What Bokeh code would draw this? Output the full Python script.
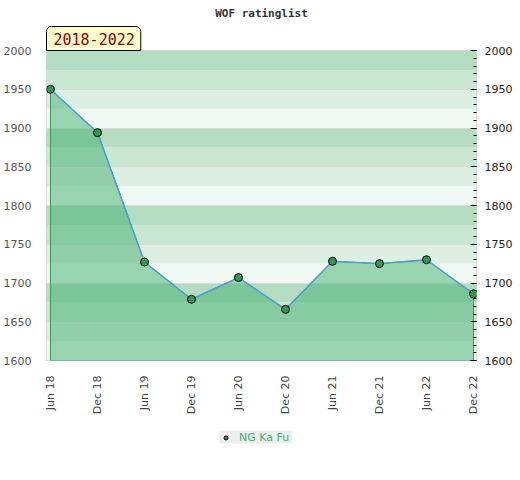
import numpy as np
from bokeh.plotting import figure
from bokeh.layouts import column
from bokeh.models import (Range1d, LinearAxis, SingleIntervalTicker, FixedTicker,
                          Title, Legend, LegendItem)
from bokeh.embed import file_html
from bokeh.resources import INLINE
from math import pi

# ---- data ----
periods = ["Jun 18", "Dec 18", "Jun 19", "Dec 19", "Jun 20",
           "Dec 20", "Jun 21", "Dec 21", "Jun 22", "Dec 22"]
ratings = [1950, 1894, 1727, 1679, 1707, 1666, 1728, 1725, 1730, 1686]
player = "NG Ka Fu"
title_text = "WOF ratinglist"
span_text = "2018-2022"

x = list(range(len(periods)))
ymin, ymax = 1600, 2000

p = figure(frame_width=430, frame_height=310, output_backend="svg",
           toolbar_location=None, x_range=Range1d(-0.085, 9.064),
           y_range=Range1d(ymin, ymax), min_border_left=37, min_border_right=37,
           min_border_top=0, min_border_bottom=0,
           background_fill_color="white", border_fill_color="white")

p.outline_line_color = "#d4d4d4"
p.xgrid.visible = False
p.ygrid.visible = False

# background bands, 25 units each, repeating 4-colour pattern per 100
band_colors = ["#eff8f2", "#dcefe2", "#c9e6d3", "#b3dcc1"]
band_bottoms = np.arange(ymin, ymax, 25)
bc = [band_colors[int((b % 100) // 25)] for b in band_bottoms]
p.hbar(y=band_bottoms + 12.5, height=25, left=-1, right=10, fill_color=bc,
       line_color=None)
p.hspan(y=list(range(ymin, ymax + 1, 50)), line_color="#dadada", line_width=1)

# area under the line
xs = [x[0]] + x + [x[-1]]
ys = [ymin] + ratings + [ymin]
p.patch(xs, ys, fill_color="#43b070", fill_alpha=0.5, line_color="#3a9a5a",
        line_width=1)
p.line(x, ratings, line_color="#4a9fd8", line_width=1.5)
marker_style = dict(size=8, fill_color="#2f9a55", line_color="black", line_width=1)
p.scatter(x, ratings, **marker_style)

# axes
p.yaxis.ticker = SingleIntervalTicker(interval=50, num_minor_ticks=0)
p.yaxis.major_tick_line_color = None
p.yaxis.minor_tick_line_color = None
p.yaxis.axis_line_color = None
p.yaxis.major_label_text_font = "DejaVu Sans"
p.yaxis.major_label_text_font_size = "11px"
p.yaxis.major_label_text_color = "#555555"
p.yaxis.major_label_standoff = 9

ra = LinearAxis(ticker=SingleIntervalTicker(interval=50, num_minor_ticks=5))
ra.axis_line_color = None
ra.major_tick_in = 6
ra.major_tick_out = 0
ra.minor_tick_in = 3
ra.minor_tick_out = 0
ra.major_tick_line_color = "black"
ra.minor_tick_line_color = "black"
ra.major_label_text_font = "DejaVu Sans"
ra.major_label_text_font_size = "11px"
ra.major_label_text_color = "#222222"
ra.major_label_standoff = 8
p.add_layout(ra, "right")

p.xaxis.ticker = FixedTicker(ticks=x)
p.xaxis.major_label_overrides = {i: s for i, s in zip(x, periods)}
p.xaxis.major_label_orientation = pi / 2
p.xaxis.major_tick_line_color = None
p.xaxis.minor_tick_line_color = None
p.xaxis.axis_line_color = None
p.xaxis.major_label_text_font = "DejaVu Sans"
p.xaxis.major_label_text_font_size = "11px"
p.xaxis.major_label_text_color = "#444444"
p.xaxis.major_label_standoff = 9

# period label box (closest to the frame) and the main title above it
lab = Title(text=span_text, align="left", text_font="DejaVu Sans Mono",
            text_font_size="15px", text_font_style="normal",
            text_color="#8b0000", background_fill_color="#ffffcc",
            border_line_color="black", border_line_width=1,
            padding=(7, 6, 6, 6), border_radius=(5, 5, 0, 0), standoff=0,
            offset=0)
p.add_layout(lab, "above")
main = Title(text=title_text, align="center", text_font="DejaVu Sans Mono",
             text_font_size="11px", text_font_style="bold", text_color="#333333",
             standoff=9)
p.add_layout(main, "above")

# legend strip below the chart
p2 = figure(width=504, height=40, output_backend="svg", toolbar_location=None,
            x_range=Range1d(100, 101), y_range=Range1d(0, 1),
            min_border=0, border_fill_color="white",
            background_fill_color="white")
p2.axis.visible = False
p2.grid.visible = False
p2.outline_line_color = None
proxy = p2.scatter(x, ratings, **marker_style)
legend = Legend(items=[LegendItem(label=player, renderers=[proxy])],
                orientation="horizontal", location="center",
                background_fill_color="#eeeeee", background_fill_alpha=1,
                border_line_color=None, label_text_color="#3cb371",
                label_text_font="DejaVu Sans", label_text_font_size="11px",
                glyph_width=12, glyph_height=10, label_height=10,
                label_width=53, padding=5, margin=0, label_standoff=8)
p2.add_layout(legend)

open("out.html", "w").write(file_html(column(p, p2, spacing=0), INLINE))
